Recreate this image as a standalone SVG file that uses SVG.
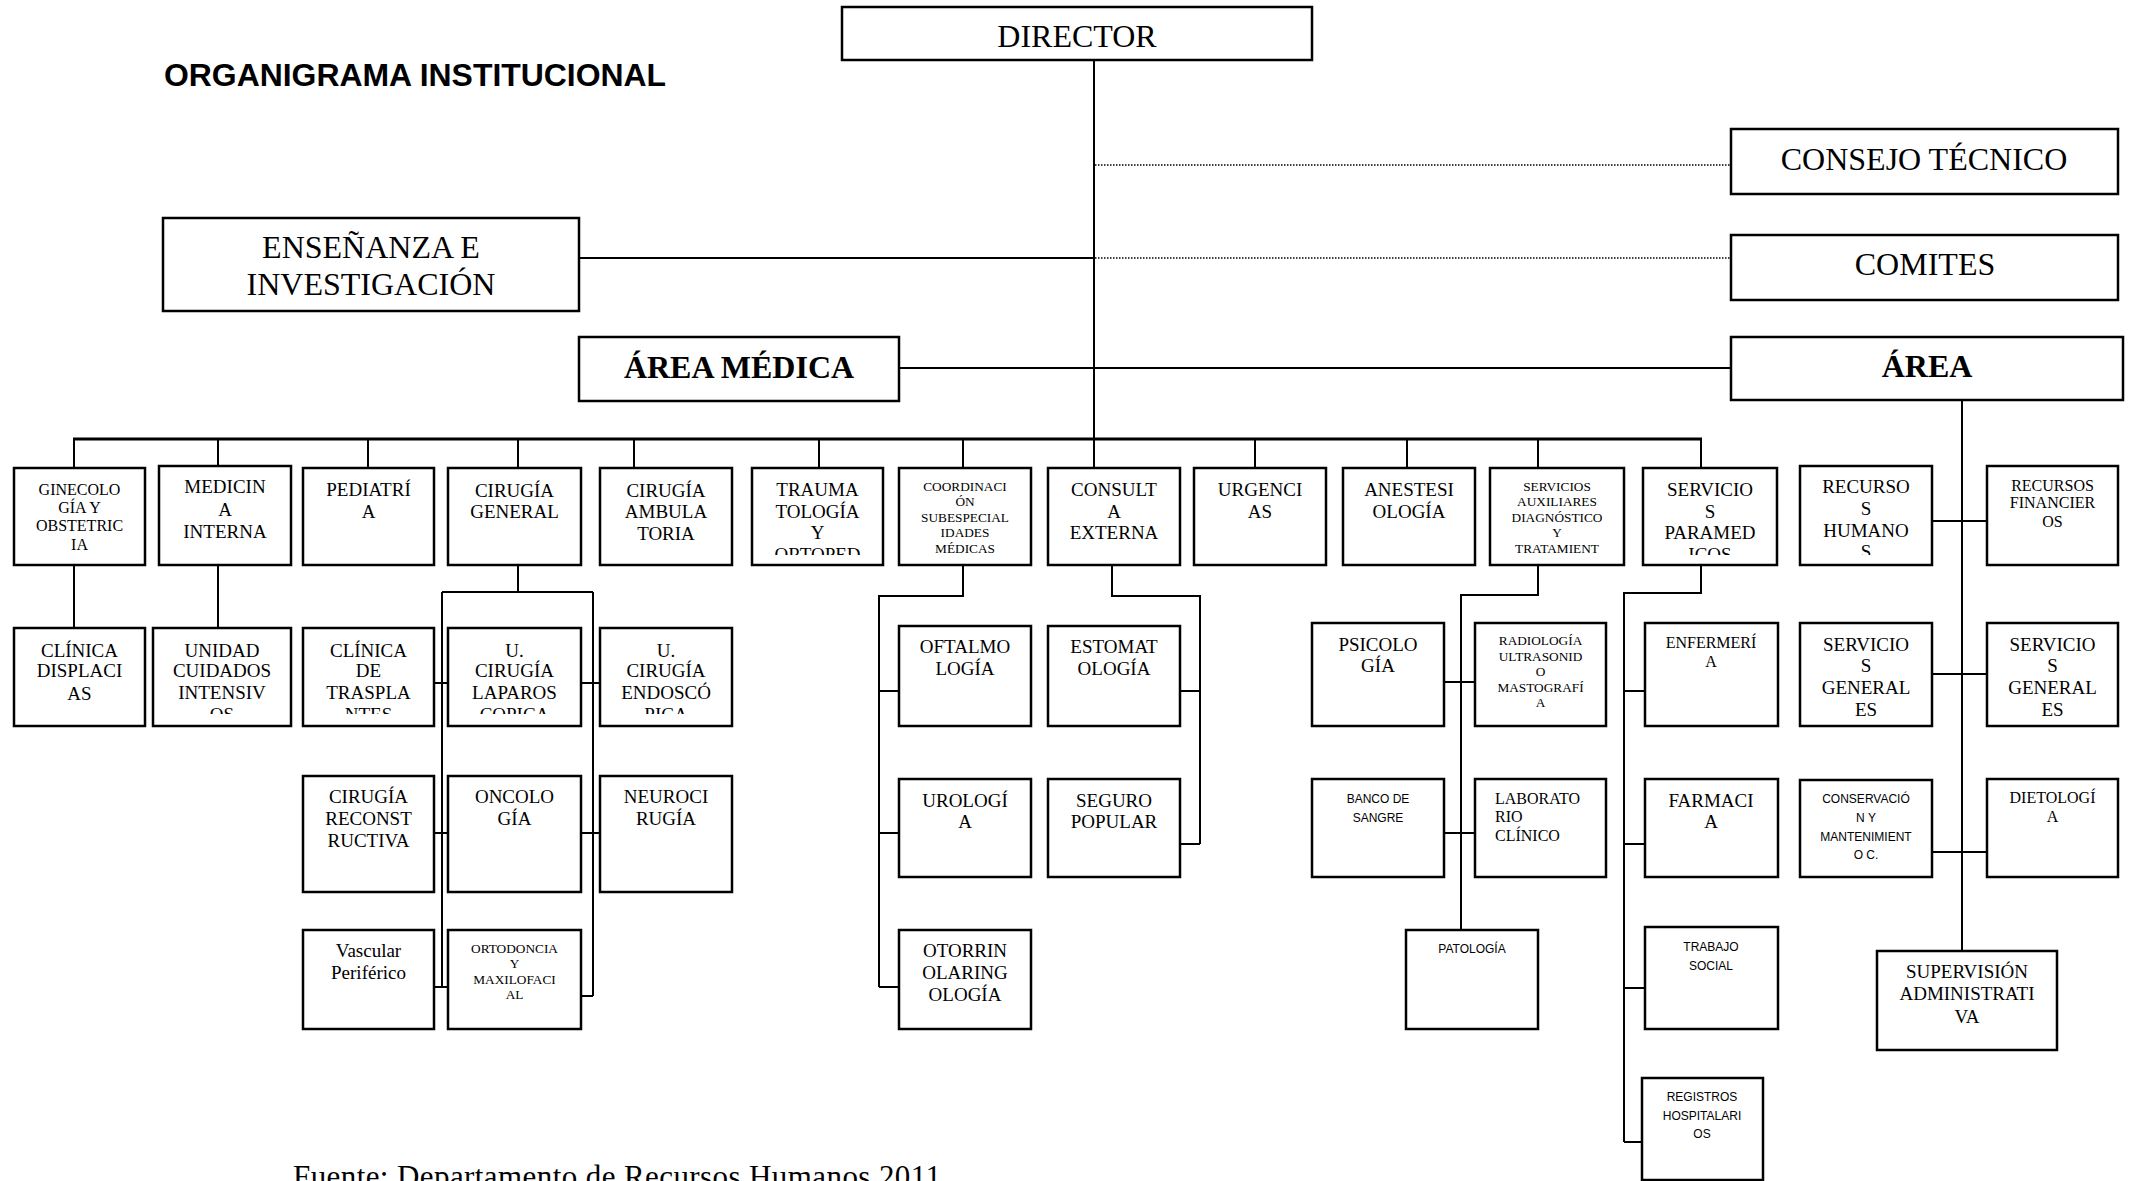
<svg xmlns="http://www.w3.org/2000/svg" width="2130" height="1181" viewBox="0 0 2130 1181">
<style>
.bg{fill:#fff}
.box{fill:#fff;stroke:#000;stroke-width:2.5}
.ln{fill:none;stroke:#000;stroke-width:2}
.bus{fill:none;stroke:#000;stroke-width:3}
.dot{fill:none;stroke:#000;stroke-width:1.5;stroke-dasharray:1.5 1.5}
text{fill:#000}
.t32{font-family:"Liberation Serif","Times New Roman",serif;font-size:32px;text-anchor:middle}
.b32{font-family:"Liberation Serif","Times New Roman",serif;font-size:32px;font-weight:bold;text-anchor:middle}
.f19{font-family:"Liberation Serif","Times New Roman",serif;font-size:19px;text-anchor:middle}
.f16{font-family:"Liberation Serif","Times New Roman",serif;font-size:16px;text-anchor:middle}
.f13{font-family:"Liberation Serif","Times New Roman",serif;font-size:13.3px;text-anchor:middle}
.a12{font-family:"Liberation Sans",Arial,sans-serif;font-size:12px;text-anchor:middle}
.title{font-family:"Liberation Sans",Arial,sans-serif;font-size:32px;font-weight:bold}
.foot{font-family:"Liberation Serif","Times New Roman",serif;font-size:31px}
</style>
<defs>
<clipPath id="c1"><rect x="0" y="0" width="2130" height="555"/></clipPath>
<clipPath id="c2"><rect x="0" y="0" width="2130" height="714"/></clipPath>
</defs>
<rect class="bg" x="0" y="0" width="2130" height="1181"/>
<text class="title" x="164" y="85.7" textLength="502" lengthAdjust="spacingAndGlyphs">ORGANIGRAMA INSTITUCIONAL</text>

<g id="connectors">
<path class="ln" d="M1094 60V468"/>
<path class="dot" d="M1095 165H1731M1095 258H1731"/>
<path class="ln" d="M579 258H1094"/>
<path class="ln" d="M899 368H1731"/>
<path class="bus" d="M73 439H1702"/>
<path class="ln" d="M74 439V468M218 439V466M368 439V468M518 439V468M634 439V468M819 439V468M963 439V468M1255 439V468M1407 439V468M1538 439V468M1701 439V468"/>
<path class="ln" d="M1962 400V951"/>
<path class="ln" d="M1932 521H1987M1932 674H1987M1932 852H1987"/>
<path class="ln" d="M74 565V628M218 565V628"/>
<path class="ln" d="M518 565V592M442 592H593M442 592V987M593 592V996M434 683H448M581 683H600M434 833H448M581 833H600M434 987H448M581 996H593"/>
<path class="ln" d="M963 565V596H879V987M879 691H899M879 833H899M879 987H899"/>
<path class="ln" d="M1112 565V596H1200V844M1180 691H1200M1180 844H1200"/>
<path class="ln" d="M1538 565V595H1461V930M1444 682H1475M1444 833H1475"/>
<path class="ln" d="M1701 565V593H1624V1142M1624 691H1645M1624 844H1645M1624 988H1645M1624 1142H1642"/>
</g>

<g id="director"><rect class="box" x="842" y="7" width="470" height="53"/><text class="t32" x="1077" y="46.7">DIRECTOR</text></g>
<g id="consejo"><rect class="box" x="1731" y="129" width="387" height="65"/><text class="t32" x="1924" y="170">CONSEJO TÉCNICO</text></g>
<g id="comites"><rect class="box" x="1731" y="235" width="387" height="65"/><text class="t32" x="1925" y="275">COMITES</text></g>
<g id="area"><rect class="box" x="1731" y="337" width="392" height="63"/><text class="b32" x="1927" y="376.7">ÁREA</text></g>
<g id="ensenanza"><rect class="box" x="163" y="218" width="416" height="93"/><text class="t32"><tspan x="371" y="258.3">ENSEÑANZA E</tspan><tspan x="371" y="295">INVESTIGACIÓN</tspan></text></g>
<g id="area-medica"><rect class="box" x="579" y="337" width="320" height="64"/><text class="b32" x="739" y="378.3">ÁREA MÉDICA</text></g>

<g id="ginecologia"><rect class="box" x="14" y="468" width="131" height="97"/><text class="f16"><tspan x="79.5" y="495">GINECOLO</tspan><tspan x="79.5" y="512.7">GÍA Y</tspan><tspan x="79.5" y="531">OBSTETRIC</tspan><tspan x="79.5" y="550">IA</tspan></text></g>
<g id="medicina"><rect class="box" x="159" y="466" width="132" height="99"/><text class="f19"><tspan x="225" y="493.3">MEDICIN</tspan><tspan x="225" y="516">A</tspan><tspan x="225" y="537.7">INTERNA</tspan></text></g>
<g id="pediatria"><rect class="box" x="303" y="468" width="131" height="97"/><text class="f19"><tspan x="368.5" y="496">PEDIATRÍ</tspan><tspan x="368.5" y="518">A</tspan></text></g>
<g id="cirugia-general"><rect class="box" x="448" y="468" width="133" height="97"/><text class="f19"><tspan x="514.5" y="496.7">CIRUGÍA</tspan><tspan x="514.5" y="518.3">GENERAL</tspan></text></g>
<g id="cirugia-ambulatoria"><rect class="box" x="600" y="468" width="132" height="97"/><text class="f19"><tspan x="666" y="496.7">CIRUGÍA</tspan><tspan x="666" y="518.3">AMBULA</tspan><tspan x="666" y="540">TORIA</tspan></text></g>
<g id="traumatologia"><rect class="box" x="752" y="468" width="131" height="97"/><text class="f19" clip-path="url(#c1)"><tspan x="817.5" y="496">TRAUMA</tspan><tspan x="817.5" y="517.7">TOLOGÍA</tspan><tspan x="817.5" y="539.3">Y</tspan><tspan x="817.5" y="561">ORTOPED</tspan></text></g>
<g id="coordinacion"><rect class="box" x="899" y="468" width="132" height="97"/><text class="f13"><tspan x="965" y="491">COORDINACI</tspan><tspan x="965" y="506">ÓN</tspan><tspan x="965" y="521.7">SUBESPECIAL</tspan><tspan x="965" y="536.7">IDADES</tspan><tspan x="965" y="552.7">MÉDICAS</tspan></text></g>
<g id="consulta"><rect class="box" x="1048" y="468" width="132" height="97"/><text class="f19"><tspan x="1114" y="496">CONSULT</tspan><tspan x="1114" y="517.7">A</tspan><tspan x="1114" y="539.3">EXTERNA</tspan></text></g>
<g id="urgencias"><rect class="box" x="1194" y="468" width="132" height="97"/><text class="f19"><tspan x="1260" y="496">URGENCI</tspan><tspan x="1260" y="517.7">AS</tspan></text></g>
<g id="anestesiologia"><rect class="box" x="1343" y="468" width="132" height="97"/><text class="f19"><tspan x="1409" y="496">ANESTESI</tspan><tspan x="1409" y="517.7">OLOGÍA</tspan></text></g>
<g id="servicios-auxiliares"><rect class="box" x="1490" y="468" width="134" height="97"/><text class="f13"><tspan x="1557" y="491">SERVICIOS</tspan><tspan x="1557" y="506">AUXILIARES</tspan><tspan x="1557" y="521.7">DIAGNÓSTICO</tspan><tspan x="1557" y="536.7">Y</tspan><tspan x="1557" y="552.7">TRATAMIENT</tspan></text></g>
<g id="paramedicos"><rect class="box" x="1643" y="468" width="134" height="97"/><text class="f19" clip-path="url(#c1)"><tspan x="1710" y="496">SERVICIO</tspan><tspan x="1710" y="517.7">S</tspan><tspan x="1710" y="539.3">PARAMED</tspan><tspan x="1710" y="561">ICOS</tspan></text></g>
<g id="recursos-humanos"><rect class="box" x="1800" y="466" width="132" height="99"/><text class="f19" clip-path="url(#c1)"><tspan x="1866" y="493.3">RECURSO</tspan><tspan x="1866" y="515">S</tspan><tspan x="1866" y="536.7">HUMANO</tspan><tspan x="1866" y="558.4">S</tspan></text></g>
<g id="recursos-financieros"><rect class="box" x="1987" y="466" width="131" height="99"/><text class="f16"><tspan x="2052.5" y="491">RECURSOS</tspan><tspan x="2052.5" y="508.3">FINANCIER</tspan><tspan x="2052.5" y="527.3">OS</tspan></text></g>

<g id="clinica-displacias"><rect class="box" x="14" y="628" width="131" height="98"/><text class="f19"><tspan x="79.5" y="656.7">CLÍNICA</tspan><tspan x="79.5" y="677.3">DISPLACI</tspan><tspan x="79.5" y="700">AS</tspan></text></g>
<g id="unidad-cuidados"><rect class="box" x="153" y="628" width="138" height="98"/><text class="f19" clip-path="url(#c2)"><tspan x="222" y="656.7">UNIDAD</tspan><tspan x="222" y="677.3">CUIDADOS</tspan><tspan x="222" y="699.3">INTENSIV</tspan><tspan x="222" y="721">OS</tspan></text></g>
<g id="clinica-trasplantes"><rect class="box" x="303" y="628" width="131" height="98"/><text class="f19" clip-path="url(#c2)"><tspan x="368.5" y="656.7">CLÍNICA</tspan><tspan x="368.5" y="677.3">DE</tspan><tspan x="368.5" y="699.3">TRASPLA</tspan><tspan x="368.5" y="721">NTES</tspan></text></g>
<g id="u-laparoscopica"><rect class="box" x="448" y="628" width="133" height="98"/><text class="f19" clip-path="url(#c2)"><tspan x="514.5" y="656.7">U.</tspan><tspan x="514.5" y="677.3">CIRUGÍA</tspan><tspan x="514.5" y="699.3">LAPAROS</tspan><tspan x="514.5" y="721">COPICA</tspan></text></g>
<g id="u-endoscopica"><rect class="box" x="600" y="628" width="132" height="98"/><text class="f19" clip-path="url(#c2)"><tspan x="666" y="656.7">U.</tspan><tspan x="666" y="677.3">CIRUGÍA</tspan><tspan x="666" y="699.3">ENDOSCÓ</tspan><tspan x="666" y="721">PICA</tspan></text></g>

<g id="reconstructiva"><rect class="box" x="303" y="776" width="131" height="116"/><text class="f19"><tspan x="368.5" y="803">CIRUGÍA</tspan><tspan x="368.5" y="825">RECONST</tspan><tspan x="368.5" y="847">RUCTIVA</tspan></text></g>
<g id="oncologia"><rect class="box" x="448" y="776" width="133" height="116"/><text class="f19"><tspan x="514.5" y="803">ONCOLO</tspan><tspan x="514.5" y="825">GÍA</tspan></text></g>
<g id="neurocirugia"><rect class="box" x="600" y="776" width="132" height="116"/><text class="f19"><tspan x="666" y="803">NEUROCI</tspan><tspan x="666" y="825">RUGÍA</tspan></text></g>
<g id="vascular"><rect class="box" x="303" y="930" width="131" height="99"/><text class="f19"><tspan x="368.5" y="957">Vascular</tspan><tspan x="368.5" y="979.3">Periférico</tspan></text></g>
<g id="ortodoncia"><rect class="box" x="448" y="930" width="133" height="99"/><text class="f13"><tspan x="514.5" y="952.7">ORTODONCIA</tspan><tspan x="514.5" y="967.7">Y</tspan><tspan x="514.5" y="984">MAXILOFACI</tspan><tspan x="514.5" y="999.3">AL</tspan></text></g>

<g id="oftalmologia"><rect class="box" x="899" y="626" width="132" height="100"/><text class="f19"><tspan x="965" y="653.3">OFTALMO</tspan><tspan x="965" y="675">LOGÍA</tspan></text></g>
<g id="estomatologia"><rect class="box" x="1048" y="626" width="132" height="100"/><text class="f19"><tspan x="1114" y="653.3">ESTOMAT</tspan><tspan x="1114" y="675">OLOGÍA</tspan></text></g>
<g id="urologia"><rect class="box" x="899" y="779" width="132" height="98"/><text class="f19"><tspan x="965" y="806.7">UROLOGÍ</tspan><tspan x="965" y="828.3">A</tspan></text></g>
<g id="seguro-popular"><rect class="box" x="1048" y="779" width="132" height="98"/><text class="f19"><tspan x="1114" y="806.7">SEGURO</tspan><tspan x="1114" y="828.3">POPULAR</tspan></text></g>
<g id="otorrino"><rect class="box" x="899" y="930" width="132" height="99"/><text class="f19"><tspan x="965" y="957.3">OTORRIN</tspan><tspan x="965" y="979.3">OLARING</tspan><tspan x="965" y="1001">OLOGÍA</tspan></text></g>

<g id="psicologia"><rect class="box" x="1312" y="623" width="132" height="103"/><text class="f19"><tspan x="1378" y="651">PSICOLO</tspan><tspan x="1378" y="672.3">GÍA</tspan></text></g>
<g id="radiologia"><rect class="box" x="1475" y="623" width="131" height="103"/><text class="f13"><tspan x="1540.5" y="645">RADIOLOGÍA</tspan><tspan x="1540.5" y="660.7">ULTRASONID</tspan><tspan x="1540.5" y="676">O</tspan><tspan x="1540.5" y="691.7">MASTOGRAFÍ</tspan><tspan x="1540.5" y="706.7">A</tspan></text></g>
<g id="banco-sangre"><rect class="box" x="1312" y="779" width="132" height="98"/><text class="a12"><tspan x="1378" y="802.7">BANCO  DE</tspan><tspan x="1378" y="821.7">SANGRE</tspan></text></g>
<g id="laboratorio"><rect class="box" x="1475" y="779" width="131" height="98"/><text class="f16" style="text-anchor:start"><tspan x="1495" y="804">LABORATO</tspan><tspan x="1495" y="822.3">RIO</tspan><tspan x="1495" y="840.7">CLÍNICO</tspan></text></g>
<g id="patologia"><rect class="box" x="1406" y="930" width="132" height="99"/><text class="a12" x="1472" y="953.3">PATOLOGÍA</text></g>

<g id="enfermeria"><rect class="box" x="1645" y="623" width="133" height="103"/><text class="f16"><tspan x="1711" y="648.3">ENFERMERÍ</tspan><tspan x="1711" y="666.7">A</tspan></text></g>
<g id="farmacia"><rect class="box" x="1645" y="779" width="133" height="98"/><text class="f19"><tspan x="1711" y="806.7">FARMACI</tspan><tspan x="1711" y="828.3">A</tspan></text></g>
<g id="trabajo-social"><rect class="box" x="1645" y="927" width="133" height="102"/><text class="a12"><tspan x="1711" y="950.7">TRABAJO</tspan><tspan x="1711" y="970">SOCIAL</tspan></text></g>
<g id="registros"><rect class="box" x="1642" y="1078" width="121" height="102"/><text class="a12"><tspan x="1702" y="1100.7">REGISTROS</tspan><tspan x="1702" y="1120">HOSPITALARI</tspan><tspan x="1702" y="1138.3">OS</tspan></text></g>

<g id="servicios-generales-1"><rect class="box" x="1800" y="623" width="132" height="103"/><text class="f19"><tspan x="1866" y="651">SERVICIO</tspan><tspan x="1866" y="672.3">S</tspan><tspan x="1866" y="694.3">GENERAL</tspan><tspan x="1866" y="715.7">ES</tspan></text></g>
<g id="servicios-generales-2"><rect class="box" x="1987" y="623" width="131" height="103"/><text class="f19"><tspan x="2052.5" y="651">SERVICIO</tspan><tspan x="2052.5" y="672.3">S</tspan><tspan x="2052.5" y="694.3">GENERAL</tspan><tspan x="2052.5" y="715.7">ES</tspan></text></g>
<g id="conservacion"><rect class="box" x="1800" y="780" width="132" height="97"/><text class="a12"><tspan x="1866" y="802.7">CONSERVACIÓ</tspan><tspan x="1866" y="821.7">N  Y</tspan><tspan x="1866" y="840.7">MANTENIMIENT</tspan><tspan x="1866" y="859.3">O  C.</tspan></text></g>
<g id="dietologia"><rect class="box" x="1987" y="779" width="131" height="98"/><text class="f16"><tspan x="2052.5" y="803.3">DIETOLOGÍ</tspan><tspan x="2052.5" y="822.3">A</tspan></text></g>
<g id="supervision"><rect class="box" x="1877" y="951" width="180" height="99"/><text class="f19"><tspan x="1967" y="978.3">SUPERVISIÓN</tspan><tspan x="1967" y="1000">ADMINISTRATI</tspan><tspan x="1967" y="1022.7">VA</tspan></text></g>

<text class="foot" x="293" y="1187" textLength="648" lengthAdjust="spacing">Fuente: Departamento de Recursos Humanos 2011</text>
</svg>
